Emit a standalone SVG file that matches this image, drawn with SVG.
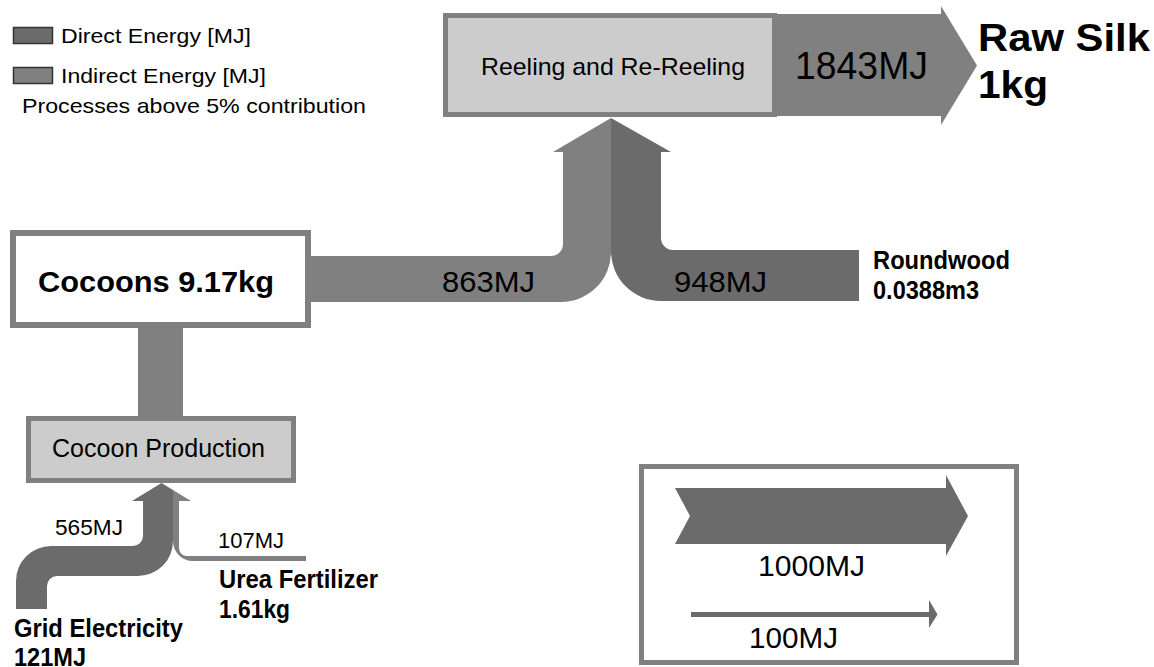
<svg xmlns="http://www.w3.org/2000/svg" width="1154" height="667" viewBox="0 0 1154 667">
<style>
.t{font-family:"Liberation Sans",Arial,sans-serif;fill:#000}
.b{font-weight:bold}
.box{stroke:#808080}
.dir{fill:#6b6b6b}
.ind{fill:#808080}
</style>
<rect width="1154" height="667" fill="#fff"/>
<g id="legend">
<rect x="13.5" y="27.5" width="39" height="16" class="dir" stroke="#333" stroke-width="1.5"/>
<text class="t" x="61" y="43" font-size="21" textLength="190" lengthAdjust="spacingAndGlyphs">Direct Energy [MJ]</text>
<rect x="13.5" y="67.5" width="39" height="16" class="ind" stroke="#333" stroke-width="1.5"/>
<text class="t" x="61" y="83" font-size="21" textLength="205" lengthAdjust="spacingAndGlyphs">Indirect Energy [MJ]</text>
<text class="t" x="22" y="113" font-size="21" textLength="344" lengthAdjust="spacingAndGlyphs">Processes above 5% contribution</text>
</g>
<g id="connectors">
<path class="ind" d="M770,14 L941,14 L941,6 L977,65.5 L941,125 L941,116 L770,116 Z"/>
<path class="ind" d="M305,256 L551,256 A12 12 0 0 0 563,244 L563,152 L553,152 L611,118 L611,252 A50 50 0 0 1 561,302 L305,302 Z"/>
<path class="dir" d="M611,118 L671,152 L661,152 L661,238 A12 12 0 0 0 673,250 L859,250 L859,301 L661,301 A50 50 0 0 1 611,251 Z"/>
<rect class="ind" x="138" y="325" width="45" height="94"/>
<path class="dir" d="M161.5,483 L132,501 L143,501 L143,536 A10 10 0 0 1 133,546 L51,546 A35 35 0 0 0 16,581 L16,609 L47,609 L47,586 A10 10 0 0 1 57,576 L138,576 A35 35 0 0 0 173,541 L173,490 Z"/>
<path class="ind" d="M173,490 L191,501 L179,501 L179,548 A8 8 0 0 0 187,556 L306,556 L306,561 L193,561 A20 20 0 0 1 173,541 Z"/>
</g>
<g id="reeling">
<rect x="445.5" y="15.5" width="329" height="99" fill="#cccccc" class="box" stroke-width="5"/>
<text class="t" x="481" y="75" font-size="24" textLength="264" lengthAdjust="spacingAndGlyphs">Reeling and Re-Reeling</text>
</g>
<g id="output-label">
<text class="t" x="795" y="79" font-size="38" textLength="133" lengthAdjust="spacingAndGlyphs">1843MJ</text>
</g>
<g id="raw-silk">
<text class="t b" x="978" y="51" font-size="38" textLength="172" lengthAdjust="spacingAndGlyphs">Raw Silk</text>
<text class="t b" x="978" y="98" font-size="38" textLength="70" lengthAdjust="spacingAndGlyphs">1kg</text>
</g>
<g id="cocoons">
<rect x="13" y="233" width="295" height="92" fill="#fff" class="box" stroke-width="6"/>
<text class="t b" x="38" y="292" font-size="29" textLength="236" lengthAdjust="spacingAndGlyphs">Cocoons 9.17kg</text>
</g>
<g id="flow-labels">
<text class="t" x="442" y="292" font-size="30" textLength="93" lengthAdjust="spacingAndGlyphs">863MJ</text>
<text class="t" x="674" y="292" font-size="30" textLength="93" lengthAdjust="spacingAndGlyphs">948MJ</text>
<text class="t" x="55" y="535" font-size="22" textLength="68" lengthAdjust="spacingAndGlyphs">565MJ</text>
<text class="t" x="218" y="548" font-size="22" textLength="66" lengthAdjust="spacingAndGlyphs">107MJ</text>
</g>
<g id="roundwood">
<text class="t b" x="873" y="269" font-size="25" textLength="137" lengthAdjust="spacingAndGlyphs">Roundwood</text>
<text class="t b" x="873" y="299" font-size="25" textLength="106" lengthAdjust="spacingAndGlyphs">0.0388m3</text>
</g>
<g id="cocoon-production">
<rect x="28.5" y="418.5" width="265" height="62" fill="#cccccc" class="box" stroke-width="5"/>
<text class="t" x="52" y="457" font-size="25" textLength="213" lengthAdjust="spacingAndGlyphs">Cocoon Production</text>
</g>
<g id="urea">
<text class="t b" x="219" y="588" font-size="25" textLength="159" lengthAdjust="spacingAndGlyphs">Urea Fertilizer</text>
<text class="t b" x="219" y="618" font-size="25" textLength="71" lengthAdjust="spacingAndGlyphs">1.61kg</text>
</g>
<g id="grid-electricity">
<text class="t b" x="14" y="637" font-size="25" textLength="169" lengthAdjust="spacingAndGlyphs">Grid Electricity</text>
<text class="t b" x="14" y="666" font-size="25" textLength="72" lengthAdjust="spacingAndGlyphs">121MJ</text>
</g>
<g id="scale">
<rect x="641.5" y="466.5" width="375" height="196" fill="#fff" class="box" stroke-width="5"/>
<path class="dir" d="M675,488 L946,488 L946,475 L968,516 L946,556 L946,544 L675,544 L690,516 Z"/>
<text class="t" x="758" y="576" font-size="29" textLength="107" lengthAdjust="spacingAndGlyphs">1000MJ</text>
<path class="dir" d="M691,612 L929,612 L929,600 L937.5,614.5 L929,628 L929,617 L691,617 Z"/>
<text class="t" x="749" y="648" font-size="29" textLength="89" lengthAdjust="spacingAndGlyphs">100MJ</text>
</g>
</svg>
